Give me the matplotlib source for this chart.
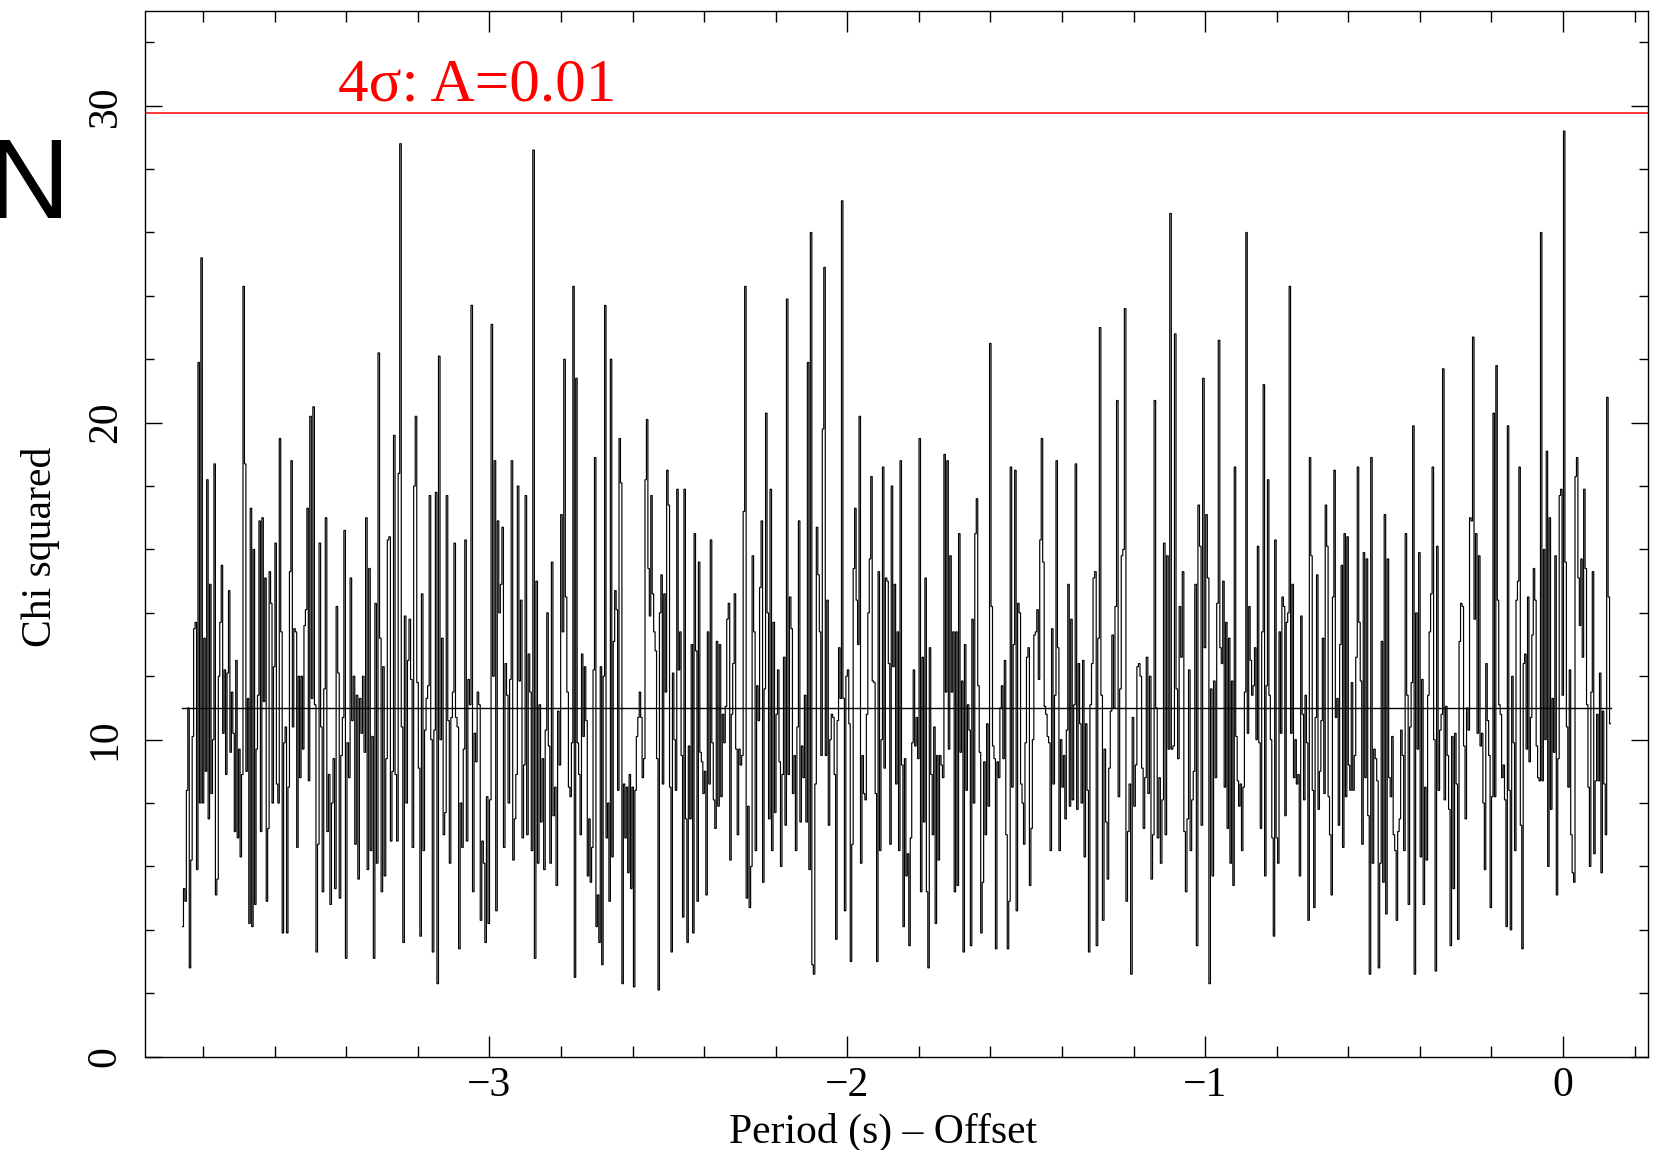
import numpy as np
import matplotlib
matplotlib.use("Agg")
import matplotlib.pyplot as plt

# ---- data ----
# period-offset boundaries of the 11 transcribed sections
segment_edges = [-3.859, -3.502, -3.138, -2.775, -2.412, -2.049, -1.685,
                 -1.322, -0.959, -0.596, -0.232, 0.134]

seg1 = [4.1, 5.3, 4.9, 8.4, 11.0, 2.8, 6.2, 10.1, 13.5, 13.7, 5.9, 21.9, 8.0, 25.2, 8.0, 13.2, 9.0, 18.2,
        7.5, 14.9, 8.3, 10.0, 18.7, 5.1, 5.6, 12.0, 13.7, 15.5, 10.2, 12.2, 8.9, 12.1, 14.7, 9.6, 11.5,
        10.2, 7.1, 12.5, 6.9, 9.7, 6.3, 8.9, 24.3, 18.7, 9.0, 11.3, 4.2, 17.3, 4.1, 16.0, 4.8, 9.7, 11.4,
        16.9, 7.1, 17.0, 11.2, 15.1, 4.9, 7.2, 15.3, 14.3, 8.0, 12.3, 16.2, 8.6, 8.0, 19.5, 13.4, 3.9,
        9.9, 10.4, 3.9, 8.5, 15.3, 18.8, 10.4, 13.5, 13.4, 6.6, 12.0, 8.8, 12.0, 9.7, 13.6, 14.1, 17.3, 8.7]
seg2 = [20.2, 11.3, 20.5, 11.1, 3.3, 6.7, 16.2, 10.4, 5.2, 11.6, 17.0, 7.1, 8.9, 4.8, 8.0, 9.4, 5.3, 14.2,
        12.1, 5.0, 9.5, 10.7, 16.6, 3.1, 9.9, 8.8, 15.1, 10.6, 12.0, 6.7, 11.4, 5.6, 11.3, 10.2, 12.0,
        9.6, 17.0, 5.9, 15.4, 6.5, 10.1, 3.1, 14.3, 6.1, 22.2, 13.2, 5.2, 12.3, 5.7, 9.4, 16.3, 16.4,
        6.8, 9.0, 19.6, 8.9, 6.8, 18.4, 28.8, 10.4, 3.6, 13.9, 8.0, 12.5, 13.8, 11.9, 6.6, 18.0, 20.2,
        11.8, 9.1, 3.8, 14.6, 6.5, 10.3, 11.3, 11.7, 17.7, 10.0, 3.3, 10.3, 17.8, 2.3, 22.1]
seg3 = [10.0, 13.2, 7.0, 7.7, 17.7, 10.6, 6.1, 10.7, 11.5, 16.2, 10.7, 10.4, 3.4, 8.0, 6.6, 9.7, 16.3,
        6.8, 11.9, 11.1, 23.7, 5.2, 10.2, 9.3, 11.5, 11.1, 4.3, 6.8, 6.1, 3.6, 8.2, 4.2, 8.1, 23.1, 12.0,
        18.8, 4.6, 16.9, 14.0, 14.9, 16.7, 6.6, 12.4, 11.4, 8.0, 11.9, 18.8, 6.2, 7.5, 8.9, 18.0, 11.85,
        14.4, 6.9, 9.2, 17.7, 7.0, 12.7, 11.5, 6.5, 28.6, 3.1, 15.0, 6.1, 11.1, 7.4, 9.4, 5.9, 10.3,
        14.0, 9.8, 6.1, 15.6, 7.6, 8.5, 5.4, 10.9, 9.2, 17.1, 13.4, 22.0, 14.5, 11.5, 8.5]
seg4 = [8.2, 9.9, 24.3, 2.5, 21.4, 9.9, 8.9, 7.0, 12.7, 10.1, 12.3, 10.6, 5.7, 7.5, 5.5, 6.6, 12.2, 18.9,
        4.1, 5.1, 3.6, 12.3, 2.9, 12.0, 23.7, 6.9, 8.0, 4.9, 22.0, 6.3, 13.1, 14.7, 14.1, 8.4, 19.5, 18.1,
        2.3, 8.6, 6.9, 8.5, 5.8, 8.9, 5.3, 8.5, 2.2, 8.4, 10.1, 10.7, 11.5, 10.7, 8.8, 9.4, 18.2, 20.1,
        15.4, 13.9, 17.7, 14.6, 13.4, 12.8, 9.4, 2.1, 14.0, 15.2, 8.6, 14.6, 11.5, 18.5, 17.4, 8.5, 3.3,
        12.1, 10.0, 8.4, 17.9, 12.2, 13.4, 9.5, 4.4, 17.9, 7.5, 3.6, 9.8, 7.5, 13.0, 3.9, 16.5, 12.8,
        4.9, 15.6]
seg5 = [9.6, 9.3, 8.3, 9.0, 5.1, 13.4, 8.6, 16.3, 9.9, 8.1, 7.2, 13.1, 7.9, 13.0, 8.2, 10.8, 9.9, 11.05,
        13.8, 14.3, 6.2, 10.8, 12.4, 14.6, 9.7, 7.0, 9.7, 9.2, 9.5, 17.2, 24.3, 5.0, 7.9, 4.7, 6.0, 15.8,
        13.4, 6.5, 11.7, 10.6, 14.8, 16.9, 5.5, 11.6, 20.3, 14.0, 7.5, 17.9, 6.5, 13.7, 7.7, 10.8, 12.2,
        9.3, 6.0, 8.9, 12.6, 7.3, 23.9, 8.9, 14.5, 13.5, 8.3, 9.5, 6.5, 10.4, 16.9, 7.4, 9.8, 8.8, 11.4,
        7.4, 21.9, 5.9, 26.0, 2.9, 2.6, 8.6, 16.7, 15.2, 13.4, 9.5, 19.8, 24.9, 9.5, 14.4, 7.3]
seg6 = [10.0, 10.8, 10.7, 8.9, 3.7, 10.6, 12.9, 11.3, 27.0, 11.3, 4.6, 12.0, 12.2, 10.5, 3.0, 6.7, 15.4,
        17.3, 14.4, 13.0, 20.2, 6.1, 9.5, 8.3, 8.1, 10.8, 14.0, 15.7, 18.3, 11.85, 11.8, 8.3, 3.0, 15.3,
        6.5, 10.0, 18.6, 9.1, 15.1, 15.0, 12.4, 6.7, 18.0, 12.3, 14.9, 8.6, 13.4, 6.5, 18.8, 9.2, 4.1,
        9.4, 5.7, 6.4, 3.5, 6.9, 9.9, 12.2, 9.8, 10.7, 9.4, 19.5, 5.2, 12.6, 7.4, 15.1, 5.2, 2.8, 12.9,
        8.9, 7.0, 10.4, 4.2, 9.5, 6.2, 9.5, 9.2, 8.8, 19.0, 11.5, 18.8, 9.7, 15.8, 11.5, 13.4, 5.2, 13.4,
        5.4, 16.5]
seg7 = [9.6, 11.85, 3.3, 13.0, 8.4, 11.1, 10.3, 3.5, 13.8, 8.0, 16.5, 17.6, 11.7, 9.6, 3.9, 5.5, 9.3,
        7.0, 10.5, 7.9, 22.5, 14.2, 9.8, 9.4, 3.4, 9.3, 8.8, 11.0, 11.7, 9.4, 12.5, 7.0, 3.4, 4.9, 18.6,
        8.5, 13.0, 18.5, 4.6, 14.3, 14.0, 8.6, 8.0, 6.7, 9.9, 12.6, 12.9, 5.4, 7.2, 10.0, 13.3, 13.4,
        14.1, 11.9, 16.3, 19.5, 15.6, 11.05, 10.8, 10.1, 9.9, 6.5, 13.5, 8.6, 11.4, 18.8, 12.9, 6.5,
        10.0, 8.5, 9.5, 7.5, 10.3, 14.9, 7.9, 13.8, 8.1, 11.1, 18.7, 7.8, 12.4, 10.5, 8.0, 12.5, 6.3,
        10.5, 8.4, 3.3]
seg8 = [11.1, 12.4, 15.1, 15.3, 3.5, 13.2, 23.0, 11.4, 4.3, 9.7, 7.4, 5.6, 9.1, 10.9, 13.3, 11.0, 14.2,
        20.7, 8.2, 11.6, 15.8, 16.0, 23.6, 4.9, 7.1, 8.6, 2.6, 10.7, 7.9, 9.2, 12.3, 12.4, 12.0, 9.1,
        7.2, 8.8, 12.6, 8.3, 12.0, 5.6, 7.0, 20.7, 11.0, 6.9, 8.8, 6.1, 8.1, 16.2, 7.0, 15.8, 9.7, 26.6,
        9.7, 9.8, 22.8, 11.6, 9.4, 14.2, 12.6, 15.3, 7.1, 5.2, 7.5, 12.2, 6.5, 8.1, 9.0, 14.9, 3.5, 17.4,
        16.1, 7.3, 21.4, 12.9, 17.1, 15.1, 2.3, 11.6, 5.7, 11.85, 8.8, 14.3, 22.6]
seg9 = [12.9, 12.4, 15.0, 8.5, 13.7, 7.2, 13.2, 6.1, 11.85, 5.4, 18.6, 10.1, 8.7, 7.9, 8.6, 6.5, 8.5,
        11.5, 26.0, 10.2, 14.2, 12.5, 11.4, 11.7, 12.9, 10.0, 16.1, 9.9, 7.2, 13.4, 21.2, 5.7, 11.7,
        18.2, 11.4, 10.0, 6.9, 3.8, 16.3, 6.9, 6.1, 13.4, 10.2, 14.5, 14.2, 7.6, 13.7, 14.0, 24.3, 10.2,
        14.9, 8.8, 10.0, 8.6, 8.9, 5.7, 13.9, 10.8, 8.1, 11.4, 9.9, 4.3, 18.9, 15.8, 8.4, 4.7, 10.7,
        15.2, 7.8, 9.0, 10.6, 13.2, 8.3, 17.4, 16.1, 8.2, 7.0, 5.1, 14.5, 18.5, 10.7, 11.3, 7.3, 13.0,
        15.5, 6.6, 16.5, 8.2, 16.4, 9.2]
seg10 = [8.4, 11.8, 8.4, 9.5, 12.6, 18.6, 13.7, 11.85, 6.7, 15.9, 8.8, 15.7, 7.6, 2.6, 18.9, 6.1, 9.7,
         9.4, 8.7, 2.8, 6.1, 13.1, 5.5, 17.1, 4.5, 15.7, 8.8, 8.2, 10.1, 7.0, 6.5, 4.3, 7.1, 7.5, 10.3,
         9.5, 6.5, 16.5, 11.4, 4.8, 10.4, 11.8, 19.9, 2.6, 14.0, 9.7, 15.9, 6.3, 11.9, 4.8, 8.5, 6.2,
         11.4, 13.4, 14.6, 18.6, 10.0, 2.7, 16.1, 8.4, 10.3, 10.8, 21.7, 8.1, 11.05, 9.5, 7.8, 3.5, 10.1,
         5.3, 10.2, 8.6, 3.7, 13.1, 14.3, 14.2, 9.8, 7.5, 11.0, 10.3, 17.0, 16.9, 22.7, 13.8, 16.5, 10.2,
         15.8]
seg11 = [9.8, 10.2, 8.0, 5.9, 12.4, 10.6, 9.5, 4.7, 8.2, 20.3, 8.2, 21.8, 14.4, 11.1, 10.8, 8.8, 9.2,
         8.1, 4.1, 19.9, 8.4, 4.0, 12.0, 9.9, 6.5, 14.4, 15.0, 18.6, 7.3, 3.4, 12.4, 12.7, 9.7, 14.5,
         9.3, 10.7, 13.3, 15.4, 14.4, 9.8, 8.8, 8.7, 26.0, 8.7, 16.0, 10.0, 19.1, 6.0, 17.0, 7.8, 11.3,
         9.6, 15.8, 5.1, 9.4, 17.7, 17.9, 11.4, 29.2, 15.6, 10.4, 8.5, 12.2, 7.0, 5.8, 5.5, 18.3, 18.9,
         15.1, 13.6, 15.7, 12.6, 17.9, 15.4, 11.1, 8.5, 6.0, 11.5, 15.3, 6.4, 8.7, 10.8, 8.7, 12.1, 5.8,
         10.9, 8.6, 7.0, 20.8, 14.5, 10.5]

segments = [seg1, seg2, seg3, seg4, seg5, seg6, seg7, seg8, seg9, seg10, seg11]

mean_level = 11.0          # black horizontal reference line
threshold_level = 29.78    # red 4-sigma line
threshold_label = "4σ: A=0.01"

x_ticks = [-3, -2, -1, 0]
y_ticks = [0, 10, 20, 30]
xlabel = "Period (s) – Offset"
ylabel = "Chi squared"
panel_letter = "N"

# ---- build bin edges from segment boundaries ----
values = []
edges = []
for k, seg in enumerate(segments):
    e = np.linspace(segment_edges[k], segment_edges[k + 1], len(seg) + 1)
    edges.extend(e[:-1])
    values.extend(seg)
edges.append(segment_edges[-1])
values = np.array(values)
edges = np.array(edges)

# ---- plotting ----
plt.rcParams['font.family'] = ['Liberation Serif', 'DejaVu Serif']
W, H = 1665, 1150
fig = plt.figure(figsize=(W / 100, H / 100), dpi=100)
ax = fig.add_axes([145.5 / W, 1 - 1056.6 / H, (1648 - 145.5) / W, (1056.6 - 10.6) / H])

ax.stairs(values, edges, baseline=None, color='black', linewidth=0.85)
ax.plot([edges[0], edges[-1]], [mean_level, mean_level], color='black', linewidth=1.0)
ax.axhline(threshold_level, color='red', linewidth=1.1)
ax.text(-3.424, 30.15, threshold_label, color='red', fontsize=44,
        ha='left', va='baseline')

ax.set_xlim(-3.961, 0.2374)
ax.set_ylim(0, 33.0)

ax.set_xticks(x_ticks)
ax.set_xticks(np.arange(-3.8, 0.21, 0.2), minor=True)
ax.set_yticks(y_ticks)
ax.set_yticks(np.arange(0, 33.1, 2), minor=True)
ax.set_xticklabels(["−3", "−2", "−1", "0"])
ax.set_yticklabels([str(v) for v in y_ticks], rotation=90, va='center')

ax.tick_params(which='both', direction='in', top=True, right=True, color='black', width=1.0)
ax.tick_params(axis='x', which='major', length=15, labelsize=30, pad=7)
ax.tick_params(axis='x', which='minor', length=8)
ax.tick_params(axis='y', which='major', length=12, labelsize=30, pad=15)
ax.tick_params(axis='y', which='minor', length=6.5)
for s in ax.spines.values():
    s.set_linewidth(1.0)

ax.set_xlabel(xlabel, fontsize=30)
ax.xaxis.set_label_coords(0.491, -0.054)
ax.set_ylabel(ylabel, fontsize=30)
ax.yaxis.set_label_coords(-0.057, 0.487)

fig.text(-12 / W, 1 - 218 / H, panel_letter, fontsize=82,
         family=['Liberation Sans', 'DejaVu Sans'], ha='left', va='baseline')

fig.savefig("out.png", dpi=100)
